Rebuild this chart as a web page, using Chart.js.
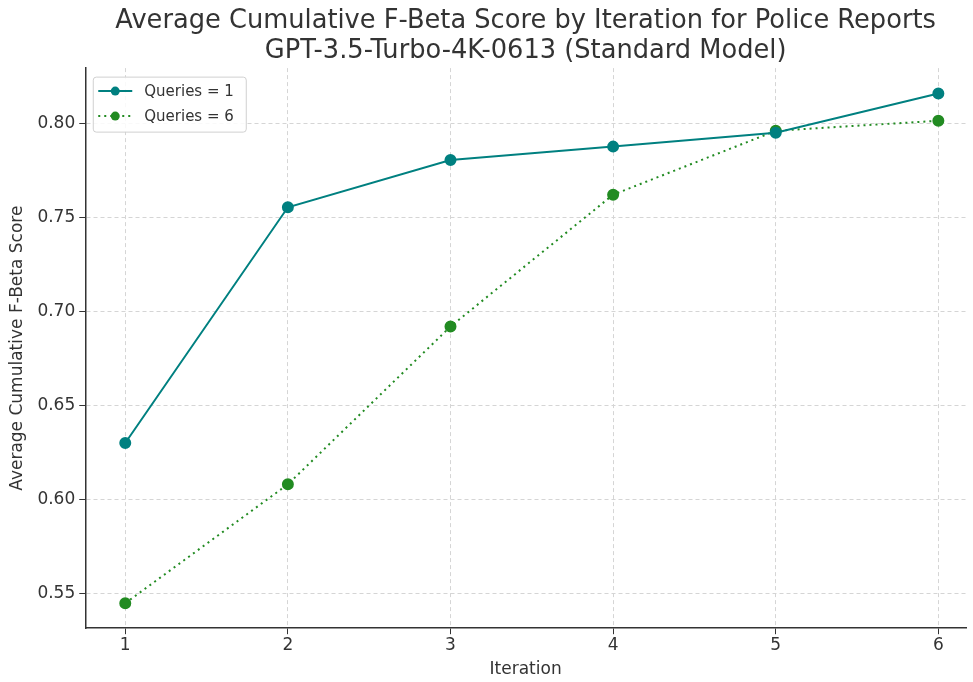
<!DOCTYPE html>
<html>
<head>
<meta charset="utf-8">
<script src="https://cdn.jsdelivr.net/npm/chart.js@4.4.0/dist/chart.umd.min.js"></script>
<style>
  html, body { margin: 0; padding: 0; background: #fff; }
  #wrap { width: 973px; height: 682px; }
</style>
</head>
<body>
<div id="wrap"><canvas id="chart"></canvas></div>
<script>
const iterations = [1, 2, 3, 4, 5, 6];
const queries1 = [0.630, 0.7555, 0.7807, 0.7878, 0.7952, 0.8161];
const queries6 = [0.5447, 0.608, 0.692, 0.7622, 0.7962, 0.8016];
const xTicks = [1, 2, 3, 4, 5, 6];
const yTicks = [0.55, 0.60, 0.65, 0.70, 0.75, 0.80];

const FONT = "'DejaVu Sans', sans-serif";
const TEAL = '#008080';
const GREEN = '#228B22';

// legend drawn inside the plot, matplotlib style (line + marker)
const insideLegend = {
  id: 'insideLegend',
  afterDraw(chart) {
    const ctx = chart.ctx;
    const area = chart.chartArea;
    const x0 = area.left + 8, y0 = area.top + 9;
    const w = 153, h = 55;
    ctx.save();
    ctx.fillStyle = 'rgba(255,255,255,0.85)';
    ctx.strokeStyle = '#d0d0d0';
    ctx.lineWidth = 1;
    ctx.beginPath();
    ctx.roundRect(x0, y0, w, h, 3);
    ctx.fill();
    ctx.stroke();
    chart.data.datasets.forEach((ds, i) => {
      const cy = y0 + 14 + i * 25;
      ctx.strokeStyle = ds.borderColor;
      ctx.lineWidth = 2;
      ctx.setLineDash(ds.borderDash || []);
      ctx.beginPath();
      ctx.moveTo(x0 + 5, cy);
      ctx.lineTo(x0 + 39, cy);
      ctx.stroke();
      ctx.setLineDash([]);
      ctx.fillStyle = ds.pointBackgroundColor;
      ctx.beginPath();
      ctx.arc(x0 + 22, cy, 4.5, 0, Math.PI * 2);
      ctx.fill();
      ctx.fillStyle = '#333';
      ctx.font = '15px ' + FONT;
      ctx.textBaseline = 'middle';
      ctx.fillText(ds.label, x0 + 51, cy + 1);
    });
    ctx.restore();
  }
};

new Chart(document.getElementById('chart'), {
  type: 'line',
  data: {
    datasets: [
      {
        label: 'Queries = 1',
        data: iterations.map((x, i) => ({ x, y: queries1[i] })),
        borderColor: TEAL,
        backgroundColor: TEAL,
        pointBackgroundColor: TEAL,
        pointBorderColor: TEAL,
        borderWidth: 2,
        pointRadius: 5,
        tension: 0,
      },
      {
        label: 'Queries = 6',
        data: iterations.map((x, i) => ({ x, y: queries6[i] })),
        borderColor: GREEN,
        backgroundColor: GREEN,
        pointBackgroundColor: GREEN,
        pointBorderColor: GREEN,
        borderWidth: 2,
        borderDash: [2, 4],
        pointRadius: 5,
        tension: 0,
      },
    ],
  },
  options: {
    responsive: true,
    maintainAspectRatio: false,
    animation: false,
    layout: { padding: { left: 3, right: 0, top: 0, bottom: 0 } },
    plugins: {
      legend: { display: false },
      tooltip: { enabled: false },
      title: {
        display: true,
        fullSize: false,
        text: ['Average Cumulative F-Beta Score by Iteration for Police Reports', 'GPT-3.5-Turbo-4K-0613 (Standard Model)'],
        color: '#333',
        font: { family: FONT, size: 25.7, weight: 'normal', lineHeight: 1.15 },
        padding: { top: 7, bottom: 2 },
      },
    },
    scales: {
      x: {
        type: 'linear',
        min: 0.754,
        max: 6.17,
        afterBuildTicks: axis => { axis.ticks = xTicks.map(v => ({ value: v })); },
        ticks: { color: '#333', font: { family: FONT, size: 17 }, padding: 1 },
        grid: { color: '#d5d5d5', tickColor: '#333', tickLength: 6, tickBorderDash: [0, 0] },
        border: { color: '#333', width: 1.5, dash: [4, 3] },
        title: { display: true, text: 'Iteration', color: '#333', font: { family: FONT, size: 17 }, padding: { top: 3, bottom: 2 } },
      },
      y: {
        min: 0.5314,
        max: 0.8296,
        afterBuildTicks: axis => { axis.ticks = yTicks.map(v => ({ value: v })); },
        ticks: { color: '#333', font: { family: FONT, size: 17 }, padding: 4, callback: v => v.toFixed(2) },
        grid: { color: '#d5d5d5', tickColor: '#333', tickLength: 6, tickBorderDash: [0, 0] },
        border: { color: '#333', width: 1.5, dash: [4, 3] },
        title: { display: true, text: 'Average Cumulative F-Beta Score', color: '#333', font: { family: FONT, size: 17 }, padding: { bottom: 6 } },
      },
    },
  },
  plugins: [insideLegend],
});
</script>
</body>
</html>
